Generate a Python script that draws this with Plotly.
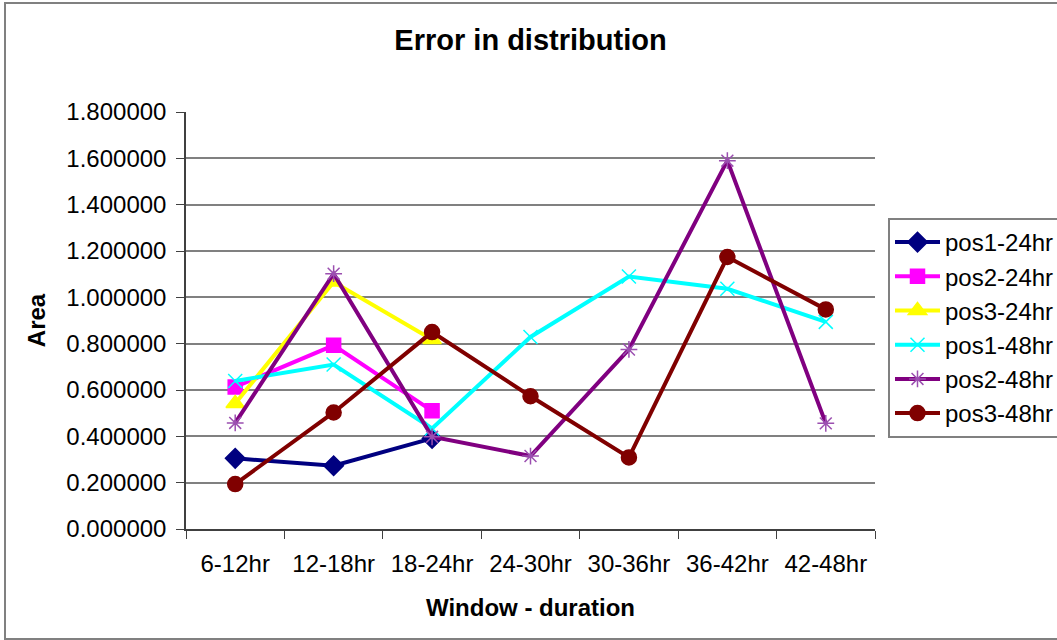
import plotly.graph_objects as go

categories = ["6-12hr", "12-18hr", "18-24hr", "24-30hr", "30-36hr", "36-42hr", "42-48hr"]

pos1_24hr = [0.305, 0.273, 0.391]
pos2_24hr = [0.613, 0.793, 0.510]
pos3_24hr = [0.542, 1.066, 0.818]
pos1_48hr = [0.639, 0.710, 0.434, 0.829, 1.090, 1.037, 0.894]
pos2_48hr = [0.458, 1.102, 0.398, 0.315, 0.775, 1.590, 0.456]
pos3_48hr = [0.194, 0.503, 0.850, 0.573, 0.309, 1.174, 0.948]

series = [
    ("pos1-24hr", pos1_24hr, "#000080", "diamond", 15, "#000080"),
    ("pos2-24hr", pos2_24hr, "#FF00FF", "square", 14, "#FF00FF"),
    ("pos3-24hr", pos3_24hr, "#FFFF00", "triangle-up", 16, "#FFFF00"),
    ("pos1-48hr", pos1_48hr, "#00FFFF", "x-thin-open", 14, "#00FFFF"),
    ("pos2-48hr", pos2_48hr, "#800080", "asterisk-open", 14, "#9B4FB0"),
    ("pos3-48hr", pos3_48hr, "#800000", "circle", 15, "#800000"),
]

fig = go.Figure()
for name, vals, color, sym, size, mcolor in series:
    fig.add_trace(go.Scatter(
        x=categories[:len(vals)], y=vals, name=name, mode="lines+markers",
        line=dict(color=color, width=4),
        marker=dict(symbol=sym, size=size, color=mcolor,
                    line=dict(color=mcolor, width=1.5)),
    ))

FONT = "Liberation Sans, Arial, sans-serif"
L, R, T, B = 186, 875, 112, 529
W, H = 1057, 640

def px(x):
    return (x - L) / (R - L)

def py(y):
    return (B - y) / (B - T)

fig.update_layout(
    width=W, height=H,
    margin=dict(l=L, r=W - R, t=T, b=H - B, autoexpand=False),
    paper_bgcolor="white", plot_bgcolor="white",
    font=dict(family=FONT, size=24, color="black"),
    title=dict(text="<b>Error in distribution</b>", x=0.5, xref="paper",
               y=1 - 40 / H, yanchor="middle", font=dict(size=29)),
    showlegend=True,
    legend=dict(x=px(888), y=py(218), xanchor="left", yanchor="top",
                bgcolor="white", bordercolor="#808080", borderwidth=2,
                font=dict(size=24), itemwidth=45, tracegroupgap=0),
    xaxis=dict(
        type="category", categoryorder="array", categoryarray=categories,
        range=[-0.5, 6.5], showgrid=False, showline=True, linecolor="#404040", linewidth=1.5,
        ticks="outside", tickson="boundaries", ticklen=8, tickcolor="#404040",
        ticklabelstandoff=12,
        title=dict(text="<b>Window - duration</b>", font=dict(size=24), standoff=24),
        zeroline=False,
    ),
    yaxis=dict(
        range=[0, 1.8], dtick=0.2, tickformat=".6f",
        showgrid=True, gridcolor="#808080", gridwidth=1.5,
        showline=True, linecolor="#404040", linewidth=1.5,
        ticks="outside", ticklen=8, tickcolor="#404040",
        ticklabelstandoff=5,
        title=dict(text="<b>Area</b>", font=dict(size=24), standoff=14),
        zeroline=False,
    ),
)

fig.add_shape(type="rect", xref="paper", yref="paper",
              x0=px(5), x1=px(1062), y0=py(639), y1=py(3),
              line=dict(color="#808080", width=2), fillcolor="rgba(0,0,0,0)",
              layer="below")

fig.write_html("out.html")
